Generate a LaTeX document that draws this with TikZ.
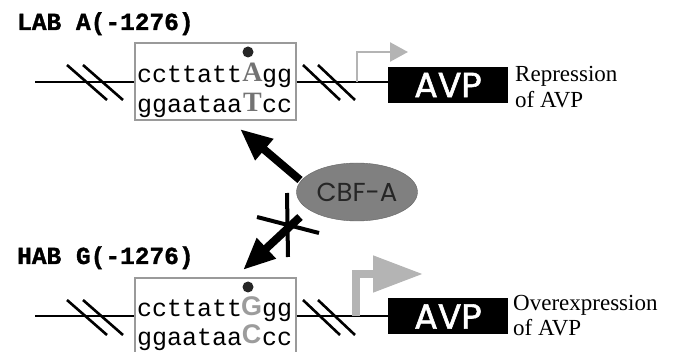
\documentclass[tikz,border=0pt]{standalone}
\usepackage{fontspec}
\usetikzlibrary{arrows.meta,shapes.geometric}
\newfontfamily\monof{Liberation Mono}
\newfontfamily\labf{Liberation Mono}[BoldFeatures={FakeBold=1.4}]
\newfontfamily\sansf{Liberation Sans}
\newfontfamily\geof{Poppins}
\newfontfamily\geofb{Poppins}[FakeBold=1.6]
\newfontfamily\serf{Liberation Serif}
\definecolor{boxgray}{HTML}{9A9A9A}
\definecolor{basegray}{HTML}{737373}
\definecolor{litegray}{HTML}{9C9C9C}
\definecolor{tssgray}{HTML}{B4B4B4}
\definecolor{protgray}{HTML}{808080}
\begin{document}
\begin{tikzpicture}[x=1pt,y=-1pt,
  dna/.style={line width=2pt,black},
  hatch/.style={line width=2.6pt,black},
  seqbox/.style={draw=boxgray,line width=1.3pt,minimum width=161pt,minimum height=77pt,inner sep=0pt},
  seqtxt/.style={font=\monof\fontsize{25}{25}\selectfont,inner sep=0pt,anchor=base west},
  baseA/.style={font=\serf\bfseries\fontsize{28}{28}\selectfont,text=basegray,inner sep=0pt,anchor=base},
  baseG/.style={font=\sansf\bfseries\fontsize{27}{27}\selectfont,text=litegray,inner sep=0pt,anchor=base},
  allele/.style={font=\labf\bfseries\fontsize{24.5}{24.5}\selectfont,inner sep=0pt,anchor=base west},
  gene/.style={fill=black,text=white,minimum width=120pt,minimum height=36pt,inner sep=0pt,
    font=\geofb\fontsize{35}{35}\selectfont},
  note/.style={font=\serf\fontsize{23}{25.5}\selectfont,align=left,inner sep=0pt,anchor=base west},
  snp/.style={fill=black!85,inner sep=0pt,minimum size=11pt,circle},
  bind/.style={line width=8pt,black,-{Triangle[length=32pt,width=26pt]}},
  cross/.style={line width=4pt,black},
  tss/.style={draw=tssgray,line join=miter}
]
\useasboundingbox (0,0) rectangle (677,352);

% ---------- low-expression allele (top) ----------
\node[allele] (labA) at (17,30) {LAB A(-1276)};
\node[seqbox] (boxA) at (215.5,81.5) {};
\node[seqtxt] (a1) at (137,83) {ccttatt};
\node[baseA] (a2) at (252.5,82) {A};
\node[seqtxt] (a3) at (262,83) {gg};
\node[seqtxt] (a4) at (137,113) {ggaataa};
\node[baseA] (a5) at (252.5,112) {T};
\node[seqtxt] (a6) at (262,113) {cc};
\node[snp] (dotA) at (248,52) {};
\node[gene] (avpA) at (448,85) {AVP};
% the base anchor of a multi-line node sits on its last line
\node[note] (noteA) at (515,107.5) {Repression\\of AVP};

\coordinate (lineA) at (35,82);
\draw[dna] (lineA) -- (lineA -| boxA.west);
\draw[dna] (boxA.east |- lineA) -- (lineA -| avpA.west);
\draw[hatch] (67,65) -- (107,100) (83,65) -- (123,100);
\draw[hatch] (303,65) -- (340,100) (318,65) -- (355,100);
\coordinate (tssA) at (357,82);
\coordinate (tipA) at (408,52);
\draw[tss,line width=2.5pt,-{Triangle[length=18pt,width=19pt]}] (tssA) |- (tipA);

% ---------- high-expression allele (bottom) ----------
\node[allele] (habG) at (17,264) {HAB G(-1276)};
\node[seqbox] (boxG) at (215.5,316.5) {};
\node[seqtxt] (g1) at (137,317) {ccttatt};
\node[baseG] (g2) at (251.5,316) {G};
\node[seqtxt] (g3) at (262,317) {gg};
\node[seqtxt] (g4) at (137,345) {ggaataa};
\node[baseG] (g5) at (251.5,344) {C};
\node[seqtxt] (g6) at (262,345) {cc};
\node[snp] (dotG) at (248,287) {};
\node[gene] (avpG) at (448,316.5) {AVP};
\node[note] (noteG) at (513,336) {Overexpression\\of AVP};

\coordinate (lineG) at (35,316);
\draw[dna] (lineG) -- (lineG -| boxG.west);
\draw[dna] (boxG.east |- lineG) -- (lineG -| avpG.west);
\draw[hatch] (67,300) -- (107,335) (83,300) -- (123,335);
\draw[hatch] (303,300) -- (340,335) (318,300) -- (355,335);
\coordinate (tssG) at (356,316);
\coordinate (tipG) at (423,274);
\draw[tss,line width=8pt,-{Triangle[length=50pt,width=35pt]}] (tssG) |- (tipG);

% ---------- transcription factor ----------
\node[ellipse,fill=protgray,draw=black!60,line width=0.4pt,minimum width=121pt,minimum height=58pt,
  inner sep=0pt,font=\geof\fontsize{26}{26}\selectfont,text=black!85] (cbf) at (357,192) {CBF-A};

\coordinate (upS) at (300,180);
\coordinate (upT) at (240,129);
\draw[bind] (upS) -- (upT);
\coordinate (dnS) at (300,217);
\coordinate (dnT) at (243,270);
\draw[bind] (dnS) -- (dnT);
\coordinate (x1a) at (287,193);
\coordinate (x1b) at (288,257);
\coordinate (x2a) at (257,217);
\coordinate (x2b) at (319,233);
\draw[cross] (x1a) -- (x1b) (x2a) -- (x2b);
\end{tikzpicture}
\end{document}
